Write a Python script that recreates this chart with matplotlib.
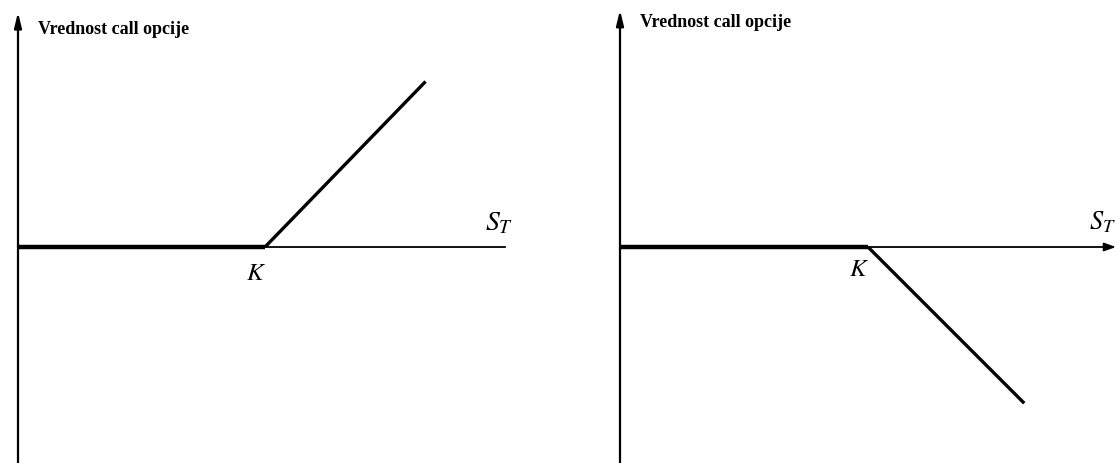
import numpy as np
import matplotlib.pyplot as plt

plt.rcParams['mathtext.fontset'] = 'stix'

# isplata call opcije (K = 1)
K = 1.0
s_duga = [0.0, 1.0, 1.65]
v_duga = [0.0, 0.0, 0.67]
s_kratka = [0.0, 1.0, 1.63]
v_kratka = [0.0, 0.0, -0.63]
naslov = "Vrednost call opcije"

W, H = 1117, 464
fig = plt.figure(figsize=(W / 100, H / 100), dpi=100)


def panel(x0, x1, ox, oy, scale):
    # ose u pikselima -> podaci
    ax = fig.add_axes([x0 / W, 0, (x1 - x0) / W, 1])
    ax.set_xlim(-(ox - x0) / scale, (x1 - ox) / scale)
    ax.set_ylim(-(H - oy) / scale, oy / scale)
    ax.axis("off")
    return ax


def crtaj(ax, s, v, y_vrh, x_kraj, strelica_x, k_dy, st_x, naslov_y, st_fs):
    # y osa sa strelicom
    ax.annotate("", xy=(0, y_vrh), xytext=(0, ax.get_ylim()[0]),
                arrowprops=dict(arrowstyle="-|>,head_length=0.9,head_width=0.22",
                                lw=1.6, color="black", shrinkA=0, shrinkB=0))
    # x osa
    if strelica_x:
        ax.annotate("", xy=(x_kraj, 0), xytext=(0, 0),
                    arrowprops=dict(arrowstyle="-|>,head_length=0.7,head_width=0.25",
                                    lw=1.3, color="black", shrinkA=0, shrinkB=0))
    else:
        ax.plot([0, x_kraj], [0, 0], color="black", lw=1.3)
    ax.plot(s[:2], v[:2], color="black", lw=3.2, solid_capstyle="butt")
    ax.plot(s[1:], v[1:], color="black", lw=2.4, solid_capstyle="butt")
    ax.text(0.08, naslov_y, naslov, family="Liberation Serif",
            fontweight="bold", fontsize=13, va="center", ha="left")
    ax.text(K - 0.035, k_dy, "$K$", fontsize=18, ha="center", va="center")
    ax.text(st_x, 0.105, "$S_T$", fontsize=st_fs, ha="left", va="center")


ax1 = panel(0, 558, 18, 248, 247)
crtaj(ax1, s_duga, v_duga, 0.95, 1.97, False, -0.1, 1.89, 0.885, 20)

ax2 = panel(558, 1117, 620, 248, 248)
crtaj(ax2, s_kratka, v_kratka, 0.955, 2.0, True, -0.085, 1.89, 0.91, 19)

fig.savefig("out.png", dpi=100)
